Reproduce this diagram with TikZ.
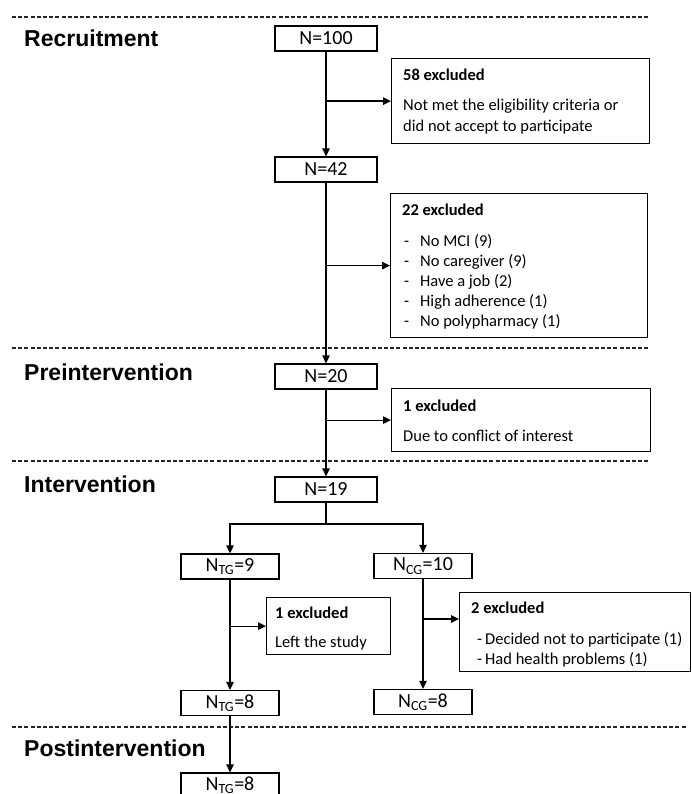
\documentclass[tikz,border=0pt]{standalone}
\usepackage{fontspec}
\setmainfont{Carlito}
\newfontfamily\headfont{Liberation Sans}
\usetikzlibrary{arrows.meta}
\begin{document}
\begin{tikzpicture}[x=1pt,y=-1pt,
  nbox/.style={draw, line width=1.3pt, minimum width=102pt, minimum height=25pt, inner sep=0pt, font=\fontsize{20}{22}\selectfont},
  gbox/.style={nbox, minimum width=98pt},
  xbox/.style={draw, line width=1.3pt, inner sep=0pt, anchor=north west},
  xtxt/.style={anchor=base west, inner sep=0pt, font=\fontsize{16.5}{20}\selectfont},
  xhead/.style={anchor=base west, inner sep=0pt, font=\fontsize{16.5}{20}\selectfont\bfseries},
  phase/.style={anchor=base west, inner sep=0pt, font=\fontsize{23}{26}\headfont\bfseries},
  sepline/.style={line width=1.8pt, dash pattern=on 4pt off 2.2pt, draw=black!85},
  arr/.style={line width=1.3pt, -{Triangle[length=8pt,width=7.5pt]}},
  ln/.style={line width=1.3pt}]
\useasboundingbox (0,0) rectangle (691,794);
\clip (0,0) rectangle (691,794);

% phase separators
\coordinate (s1a) at (12,17);  \coordinate (s1b) at (650,17);
\coordinate (s2a) at (12,348); \coordinate (s2b) at (650,348);
\coordinate (s3a) at (12,461); \coordinate (s3b) at (650,461);
\coordinate (s4a) at (12,727); \coordinate (s4b) at (687,727);
\draw[sepline] (s1a) -- (s1b);
\draw[sepline] (s2a) -- (s2b);
\draw[sepline] (s3a) -- (s3b);
\draw[sepline] (s4a) -- (s4b);

% phase labels
\node[phase] (p1) at (24,47) {Recruitment};
\node[phase] (p2) at (24,380) {Preintervention};
\node[phase] (p3) at (24,492) {Intervention};
\node[phase] (p4) at (24,756) {Postintervention};

% count boxes
\node[nbox] (n100) at (326,38.5) {N=100};
\node[nbox] (n42) at (326,169.5) {N=42};
\node[nbox] (n20) at (326,376.5) {N=20};
\node[nbox] (n19) at (326,489.5) {N=19};
\node[gbox] (tg9) at (230,566.5) {N\textsubscript{TG}=9};
\node[gbox] (cg10) at (423,566) {N\textsubscript{CG}=10};
\node[gbox] (tg8) at (230,703) {N\textsubscript{TG}=8};
\node[gbox] (cg8) at (423,702) {N\textsubscript{CG}=8};
\node[gbox] (tg8b) at (230,785.5) {N\textsubscript{TG}=8};

% exclusion boxes
\node[xbox, minimum width=258pt, minimum height=85pt] (e58) at (391,58) {};
\node[xhead] (e58h) at (403,81) {58 excluded};
\node[xtxt] (e58a) at (403,111) {Not met the eligibility criteria or};
\node[xtxt] (e58b) at (403,132) {did not accept to participate};

\node[xbox, minimum width=257pt, minimum height=144pt] (e22) at (390,193) {};
\node[xhead] (e22h) at (402,216) {22 excluded};
\node[xtxt] (e22d1) at (404,246) {-}; \node[xtxt] (e22t1) at (420,246) {No MCI (9)};
\node[xtxt] (e22d2) at (404,266) {-}; \node[xtxt] (e22t2) at (420,266) {No caregiver (9)};
\node[xtxt] (e22d3) at (404,286) {-}; \node[xtxt] (e22t3) at (420,286) {Have a job (2)};
\node[xtxt] (e22d4) at (404,306) {-}; \node[xtxt] (e22t4) at (420,306) {High adherence (1)};
\node[xtxt] (e22d5) at (404,326) {-}; \node[xtxt] (e22t5) at (420,326) {No polypharmacy (1)};

\node[xbox, minimum width=259pt, minimum height=63pt] (e1a) at (391,388) {};
\node[xhead] (e1ah) at (403,411) {1 excluded};
\node[xtxt] (e1aa) at (403,441) {Due to conflict of interest};

\node[xbox, minimum width=124pt, minimum height=57pt] (e1b) at (266,597) {};
\node[xhead] (e1bh) at (275,618) {1 excluded};
\node[xtxt] (e1ba) at (275,647) {Left the study};

\node[xbox, minimum width=231pt, minimum height=79pt] (e2) at (459,592) {};
\node[xhead] (e2h) at (471,613) {2 excluded};
\node[xtxt] (e2d1) at (477,644) {-}; \node[xtxt] (e2t1) at (485,644) {Decided not to participate (1)};
\node[xtxt] (e2d2) at (477,664) {-}; \node[xtxt] (e2t2) at (485,664) {Had health problems (1)};

% connectors
\draw[arr] (n100) -- (n42);
\draw[arr] (n100.south |- e58.west) -- (e58.west);
\draw[arr] (n42) -- (n20);
\draw[arr] (n42.south |- e22.west) -- (e22.west);
\draw[arr] (n20) -- (n19);
\draw[arr] (n20.south |- e1a.west) -- (e1a.west);
\coordinate (split) at (326,524);
\draw[ln] (n19.south) -- (split);
\draw[arr] (split) -| (tg9.north);
\draw[arr] (split) -| (cg10.north);
\draw[arr] (tg9) -- (tg8);
\draw[arr] (tg9.south |- e1b.west) -- (e1b.west);
\draw[arr] (cg10) -- (cg8);
\coordinate (b2) at (423,619);
\draw[arr] (b2) -- (b2 -| e2.west);
\draw[arr] (tg8) -- (tg8b);
\end{tikzpicture}
\end{document}
